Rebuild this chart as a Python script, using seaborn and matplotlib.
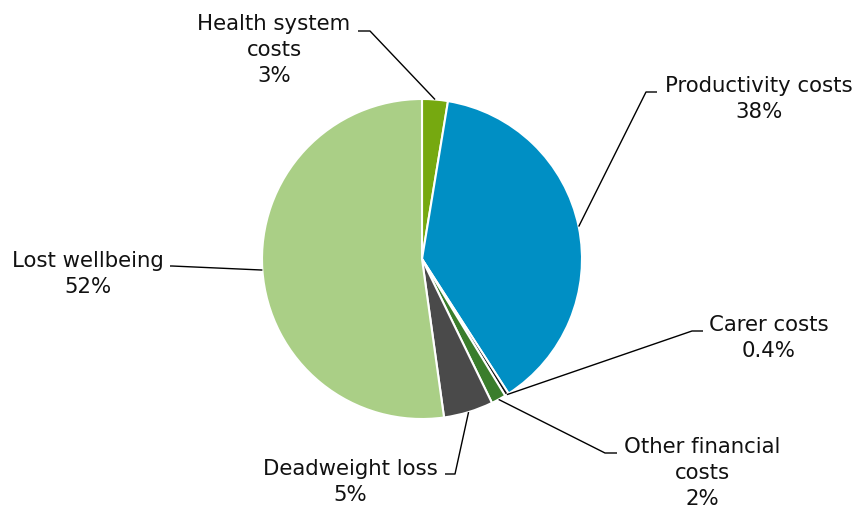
import matplotlib
matplotlib.use("Agg")
import matplotlib.pyplot as plt
import numpy as np
import seaborn as sns

# Data
categories = ['Health system\ncosts', 'Productivity costs', 'Carer costs',
              'Other financial\ncosts', 'Deadweight loss', 'Lost wellbeing']
shares = [2.6, 38.3, 0.4, 1.5, 5.0, 52.2]
share_labels = ['3%', '38%', '0.4%', '2%', '5%', '52%']
colors = ['#76A910', '#008FC4', '#111111', '#3A7D2C', '#4A4A4A', '#AACF86']

# Layout in pixel coords (y down), converted below
W, H = 857, 506
CENTER = (422, 260)
RADIUS = 160
# (elbow point, label-side end point, text centre)
LEADERS = [
    ((370, 32), (358, 32), (274, 50)),
    ((646, 93), (657, 93), (759, 99)),
    ((692, 332), (703, 332), (769, 338)),
    ((605, 454), (617, 454), (702, 473)),
    ((455, 475), (445, 475), (350, 482)),
    ((172, 267), (170, 267), (88, 274)),
]


def fy(y):
    return H - y


sns.set_style("white")
plt.rcParams['font.family'] = ['DejaVu Sans']

fig = plt.figure(figsize=(W / 100, H / 100), dpi=100)
ax = fig.add_axes([0, 0, 1, 1])

wedges, _ = ax.pie(shares, colors=colors, startangle=90, counterclock=False,
                   center=(CENTER[0], fy(CENTER[1])), radius=RADIUS,
                   wedgeprops=dict(edgecolor='white', linewidth=1.5))

for w, cat, lab, (elbow, end, txt) in zip(wedges, categories, share_labels, LEADERS):
    mid = np.deg2rad((w.theta1 + w.theta2) / 2)
    sx = CENTER[0] + RADIUS * np.cos(mid)
    sy = fy(CENTER[1]) + RADIUS * np.sin(mid)
    ax.plot([sx, elbow[0], end[0]], [sy, fy(elbow[1]), fy(end[1])],
            color='black', linewidth=1.0, solid_capstyle='butt')
    ax.text(txt[0], fy(txt[1]), f'{cat}\n{lab}', ha='center', va='center',
            fontsize=15.3, color='#111111', linespacing=1.38)

ax.set_xlim(0, W)
ax.set_ylim(0, H)
ax.set_aspect('auto')
ax.axis('off')

fig.savefig('out.png', dpi=100)
plt.close(fig)
